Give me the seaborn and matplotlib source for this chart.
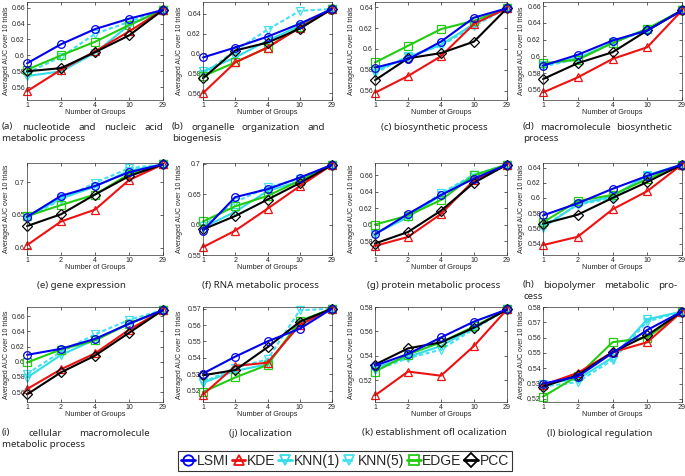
import pandas as pd
import matplotlib
matplotlib.use('Agg')
import matplotlib.pyplot as plt
import seaborn as sns
from matplotlib.lines import Line2D

# x categories (number of groups) and methods
groups = ['1', '2', '4', '10', '29']
methods = ['LSMI', 'KDE', 'KNN(1)', 'KNN(5)', 'EDGE', 'PCC']

# averaged AUC, one row per method in the order of `methods`
auc_a = [[0.590, 0.614, 0.633, 0.646, 0.657],
         [0.555, 0.582, 0.605, 0.630, 0.657],
         [0.574, 0.580, 0.603, 0.638, 0.657],
         [0.578, 0.598, 0.627, 0.642, 0.657],
         [0.582, 0.600, 0.617, 0.638, 0.657],
         [0.580, 0.584, 0.604, 0.625, 0.657]]
auc_b = [[0.596, 0.606, 0.617, 0.630, 0.645],
         [0.560, 0.591, 0.606, 0.626, 0.645],
         [0.582, 0.596, 0.613, 0.628, 0.645],
         [0.579, 0.603, 0.624, 0.643, 0.645],
         [0.577, 0.591, 0.606, 0.627, 0.645],
         [0.575, 0.603, 0.611, 0.625, 0.645]]
auc_c = [[0.582, 0.590, 0.607, 0.630, 0.639],
         [0.558, 0.574, 0.593, 0.624, 0.639],
         [0.579, 0.592, 0.604, 0.624, 0.639],
         [0.577, 0.593, 0.603, 0.622, 0.639],
         [0.587, 0.603, 0.619, 0.627, 0.639],
         [0.570, 0.591, 0.596, 0.607, 0.639]]
auc_d = [[0.589, 0.602, 0.619, 0.631, 0.655],
         [0.557, 0.575, 0.597, 0.611, 0.655],
         [0.590, 0.598, 0.616, 0.633, 0.655],
         [0.588, 0.597, 0.617, 0.631, 0.655],
         [0.592, 0.596, 0.616, 0.633, 0.655],
         [0.573, 0.592, 0.605, 0.631, 0.655]]
auc_e = [[0.647, 0.679, 0.694, 0.715, 0.727],
         [0.604, 0.640, 0.658, 0.703, 0.727],
         [0.648, 0.675, 0.693, 0.717, 0.727],
         [0.646, 0.673, 0.699, 0.721, 0.727],
         [0.648, 0.665, 0.681, 0.712, 0.727],
         [0.633, 0.651, 0.681, 0.709, 0.727]]
auc_f = [[0.590, 0.645, 0.658, 0.677, 0.698],
         [0.563, 0.590, 0.626, 0.663, 0.698],
         [0.595, 0.621, 0.655, 0.671, 0.698],
         [0.597, 0.637, 0.661, 0.675, 0.698],
         [0.605, 0.630, 0.647, 0.672, 0.698],
         [0.592, 0.614, 0.641, 0.668, 0.698]]
auc_g = [[0.588, 0.613, 0.636, 0.656, 0.673],
         [0.574, 0.585, 0.613, 0.654, 0.673],
         [0.589, 0.609, 0.636, 0.660, 0.673],
         [0.589, 0.611, 0.638, 0.661, 0.673],
         [0.600, 0.611, 0.630, 0.660, 0.673],
         [0.577, 0.591, 0.617, 0.651, 0.673]]
auc_h = [[0.577, 0.593, 0.612, 0.629, 0.644],
         [0.538, 0.549, 0.585, 0.609, 0.644],
         [0.561, 0.592, 0.602, 0.630, 0.644],
         [0.563, 0.591, 0.600, 0.629, 0.644],
         [0.568, 0.596, 0.604, 0.625, 0.644],
         [0.566, 0.578, 0.600, 0.621, 0.644]]
auc_i = [[0.609, 0.617, 0.630, 0.650, 0.668],
         [0.564, 0.590, 0.611, 0.642, 0.668],
         [0.579, 0.609, 0.629, 0.650, 0.668],
         [0.584, 0.613, 0.636, 0.655, 0.668],
         [0.599, 0.616, 0.628, 0.650, 0.668],
         [0.557, 0.586, 0.608, 0.638, 0.668]]
auc_j = [[0.5304, 0.5407, 0.5500, 0.5577, 0.5700],
         [0.5175, 0.5350, 0.5370, 0.5600, 0.5700],
         [0.5248, 0.5320, 0.5360, 0.5610, 0.5700],
         [0.5250, 0.5340, 0.5390, 0.5690, 0.5700],
         [0.5191, 0.5280, 0.5356, 0.5625, 0.5700],
         [0.5293, 0.5325, 0.5464, 0.5620, 0.5700]]
auc_k = [[0.5318, 0.5414, 0.5550, 0.5680, 0.5780],
         [0.5074, 0.5270, 0.5236, 0.5480, 0.5780],
         [0.5300, 0.5390, 0.5480, 0.5630, 0.5780],
         [0.5280, 0.5380, 0.5450, 0.5620, 0.5780],
         [0.5270, 0.5410, 0.5510, 0.5640, 0.5780],
         [0.5327, 0.5460, 0.5510, 0.5630, 0.5780]]
auc_l = [[0.5300, 0.5346, 0.5500, 0.5650, 0.5770],
         [0.5290, 0.5370, 0.5505, 0.5570, 0.5770],
         [0.5300, 0.5330, 0.5470, 0.5720, 0.5770],
         [0.5280, 0.5310, 0.5455, 0.5705, 0.5770],
         [0.5215, 0.5350, 0.5570, 0.5600, 0.5770],
         [0.5280, 0.5355, 0.5505, 0.5615, 0.5770]]

captions = {
    'a': ['(a) nucleotide and nucleic acid', 'metabolic process'],
    'b': ['(b) organelle organization and', 'biogenesis'],
    'c': ['(c) biosynthetic process'],
    'd': ['(d) macromolecule biosynthetic', 'process'],
    'e': ['(e) gene expression'],
    'f': ['(f) RNA metabolic process'],
    'g': ['(g) protein metabolic process'],
    'h': ['(h) biopolymer metabolic pro-', 'cess'],
    'i': ['(i) cellular macromolecule', 'metabolic process'],
    'j': ['(j) localization'],
    'k': ['(k) establishment ofl ocalization'],
    'l': ['(l) biological regulation'],
}

panels = {'a': auc_a, 'b': auc_b, 'c': auc_c, 'd': auc_d, 'e': auc_e, 'f': auc_f,
          'g': auc_g, 'h': auc_h, 'i': auc_i, 'j': auc_j, 'k': auc_k, 'l': auc_l}

rows = []
for key, table in panels.items():
    for m, vals in zip(methods, table):
        for pos, v in enumerate(vals):
            rows.append({'panel': key, 'method': m, 'pos': pos, 'auc': v})
df = pd.DataFrame(rows)

# axis limits / ticks per panel
ylims = {'a': (0.544, 0.667, 0.56, 0.66, 0.02), 'b': (0.553, 0.652, 0.56, 0.64, 0.02),
         'c': (0.551, 0.645, 0.56, 0.64, 0.02), 'd': (0.548, 0.665, 0.56, 0.66, 0.02),
         'e': (0.589, 0.729, 0.6, 0.7, 0.05), 'f': (0.55, 0.701, 0.55, 0.7, 0.05),
         'g': (0.563, 0.675, 0.58, 0.66, 0.02), 'h': (0.525, 0.646, 0.54, 0.64, 0.02),
         'i': (0.547, 0.672, 0.56, 0.66, 0.02), 'j': (0.513, 0.571, 0.52, 0.57, 0.01),
         'k': (0.502, 0.580, 0.52, 0.58, 0.02), 'l': (0.518, 0.580, 0.52, 0.58, 0.01)}

palette = {'LSMI': '#0000ee', 'KDE': '#ee1111', 'KNN(1)': '#33dde8',
           'KNN(5)': '#44e0f0', 'EDGE': '#22cc11', 'PCC': '#000000'}
markers = {'LSMI': 'o', 'KDE': '^', 'KNN(1)': 'v', 'KNN(5)': 'v', 'EDGE': 's', 'PCC': 'D'}
dashes = {'LSMI': '', 'KDE': '', 'KNN(1)': '', 'KNN(5)': (2, 1.2), 'EDGE': '', 'PCC': ''}
draw_order = ['KNN(5)', 'KNN(1)', 'EDGE', 'KDE', 'PCC', 'LSMI']

sns.set_theme(style='ticks')
plt.rcParams['font.family'] = ['Liberation Sans', 'DejaVu Sans']

W, H = 685, 476
fig = plt.figure(figsize=(W / 100, H / 100), dpi=100)

col_x = [(27, 163), (203, 332), (375, 507), (543, 682)]
row_y = [(2, 100), (163, 255), (307, 402)]
ylab_x = [10, 183, 355, 525]

for idx, key in enumerate(panels):
    r, c = divmod(idx, 4)
    x0, x1 = col_x[c]
    y0, y1 = row_y[r]
    ax = fig.add_axes([x0 / W, 1 - y1 / H, (x1 - x0) / W, (y1 - y0) / H])
    sns.lineplot(data=df[df.panel == key], x='pos', y='auc', hue='method', style='method',
                 hue_order=draw_order, style_order=draw_order, palette=palette,
                 markers=markers, dashes=dashes, legend=False, ax=ax,
                 linewidth=1.5, markersize=5.5)
    for line in ax.lines:
        line.set_markerfacecolor('none')
        line.set_markeredgecolor(line.get_color())
        line.set_markeredgewidth(0.9)
        line.set_clip_on(False)
    lo, hi, t0, t1, st = ylims[key]
    ticks = [round(t0 + k * st, 3) for k in range(int(round((t1 - t0) / st)) + 1)]
    ax.set_ylim(lo, hi)
    ax.set_yticks(ticks)
    ax.set_yticklabels(['%g' % t for t in ticks])
    ax.set_xlim(0, 4)
    ax.set_xticks(range(len(groups)))
    ax.set_xticklabels(groups)
    ax.tick_params(direction='in', length=2, width=0.5, labelsize=5, top=True, right=True, pad=1.5)
    for s in ax.spines.values():
        s.set_linewidth(0.5)
        s.set_color('#333333')
    ax.set_xlabel('Number of Groups', fontsize=5.3, labelpad=0)
    ax.set_ylabel('Averaged AUC over 10 trials', fontsize=5, labelpad=1)
    ax.yaxis.set_label_coords((ylab_x[c] - x0) / (x1 - x0), 0.5)

# captions below each panel (justified like the paper)
renderer = fig.canvas.get_renderer()
cap_left = [2, 172, 348, 523]
cap_right = {'a': 163, 'b': 325, 'd': 672, 'h': 677, 'i': 150}
cap_center = [81, 260, 434, 600]
cap_y = [127, 285, 433]
cap_font = dict(fontsize=7, family=['Noto Sans', 'DejaVu Sans'], va='center')

for idx, key in enumerate(panels):
    r, c = divmod(idx, 4)
    lines = captions[key]
    for li, text in enumerate(lines):
        yy = 1 - (cap_y[r] + li * 11.5) / H
        if len(lines) == 1:
            fig.text(cap_center[c] / W, yy, text, ha='center', **cap_font)
        elif li == len(lines) - 1:
            fig.text(cap_left[c] / W, yy, text, ha='left', **cap_font)
        else:
            words = text.split()
            objs = [fig.text(0, yy, w, ha='left', **cap_font) for w in words]
            widths = [o.get_window_extent(renderer).width for o in objs]
            gap = (cap_right[key] - cap_left[c] - sum(widths)) / (len(words) - 1)
            xx = cap_left[c]
            for o, w in zip(objs, widths):
                o.set_x(xx / W)
                xx += w + gap

handles = [Line2D([], [], color=palette[m], marker=markers[m], markerfacecolor='none',
                  markeredgecolor=palette[m], markersize=7.5, markeredgewidth=1.3,
                  linewidth=2, linestyle='--' if m == 'KNN(5)' else '-') for m in methods]
leg = fig.legend(handles, methods, loc='center', bbox_to_anchor=(345 / W, 1 - 461 / H),
                 ncol=6, fontsize=10, handlelength=1.0, handletextpad=0.1,
                 columnspacing=0.2, borderpad=0.2, frameon=True, fancybox=False)
leg.get_frame().set_edgecolor('black')
leg.get_frame().set_linewidth(0.8)

fig.savefig('out.png', dpi=100)
